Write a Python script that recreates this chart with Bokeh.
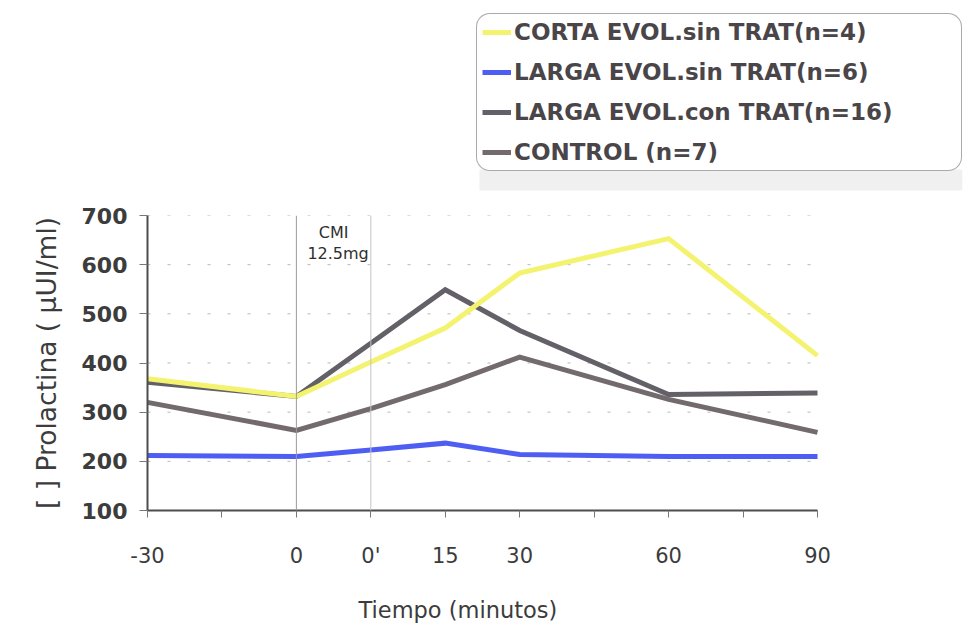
from bokeh.plotting import figure
from bokeh.layouts import column
from bokeh.models import Legend, LegendItem, FixedTicker, Span, Label, Range1d, Title, BoxAnnotation
from bokeh.embed import file_html
from bokeh.resources import INLINE

# ---- data ----
x_labels = ["-30", "0", "0'", "15", "30", "60", "90"]
x_slots = [0, 2, 3, 4, 5, 7, 9]          # ordinal slot of each time label on the axis
n_slots = 10

corta_sin = [368, 332, 402, 471, 583, 653, 415]
larga_sin = [212, 210, 223, 237, 214, 210, 210]
larga_con = [361, 332, 440, 549, 466, 336, 339]
control = [320, 263, 307, 356, 412, 326, 259]

series_names = ["CORTA EVOL.sin TRAT(n=4)", "LARGA EVOL.sin TRAT(n=6)",
                "LARGA EVOL.con TRAT(n=16)", "CONTROL (n=7)"]
y_ticks = [100, 200, 300, 400, 500, 600, 700]
colors = ["#f3f370", "#4f5ef2", "#636067", "#736a6e"]

TOTAL_W = 967
TOP_H = 195
LEFT = 147
AXIS_W = 670          # pixel length of the x axis
FRAME_W = 815         # frame extends right of the axis so the legend strip can be wide
x_end = x_slots[-1] + (FRAME_W - AXIS_W) * (x_slots[-1] - x_slots[0]) / AXIS_W

# ---- main figure ----
p = figure(frame_width=FRAME_W, frame_height=295,
           x_range=Range1d(x_slots[0], x_end), y_range=Range1d(y_ticks[0], y_ticks[-1]),
           output_backend="svg", toolbar_location=None,
           min_border_left=LEFT, min_border_top=215 - TOP_H,
           min_border_right=TOTAL_W - LEFT - FRAME_W, min_border_bottom=114)
p.outline_line_color = None
p.background_fill_color = "white"
p.border_fill_color = "white"

# grid (dotted horizontal lines limited to the axis extent)
p.xgrid.visible = False
p.ygrid.visible = False
g = y_ticks[1:]
p.segment(x0=[x_slots[0]] * len(g), x1=[x_slots[-1]] * len(g), y0=g, y1=g,
          line_color="#b8b8b8", line_dash="3 17", line_width=1, level="underlay")

# vertical markers at 0 and 0'
p.add_layout(Span(location=x_slots[1], dimension="height", line_color="#9a9a9a", line_width=1))
p.add_layout(Span(location=x_slots[2], dimension="height", line_color="#c4c4c4", line_width=1))

# axes
minor = [s for s in range(n_slots) if s not in x_slots]
p.xaxis.ticker = FixedTicker(ticks=x_slots, minor_ticks=minor)
p.xaxis.major_label_overrides = {s: l for s, l in zip(x_slots, x_labels)}
p.xaxis.bounds = (x_slots[0], x_slots[-1])
p.yaxis.ticker = FixedTicker(ticks=y_ticks)

for ax in (p.xaxis[0], p.yaxis[0]):
    ax.axis_line_color = "#4d4d4d"
    ax.axis_line_width = 2
    ax.major_tick_line_color = "#777777"
    ax.minor_tick_line_color = "#777777"
    ax.major_tick_in = 0
    ax.minor_tick_in = 0
    ax.major_label_text_color = "#3c3c3c"
    ax.axis_label_text_color = "#3c3c3c"
    ax.axis_label_text_font = "DejaVu Sans"
    ax.axis_label_text_font_style = "normal"

p.xaxis.major_tick_out = 7
p.xaxis.minor_tick_out = 7
p.xaxis.major_label_text_font = "DejaVu Sans"
p.xaxis.major_label_text_font_size = "21px"
p.xaxis.major_label_standoff = 26

p.yaxis.major_tick_out = 8
p.yaxis.minor_tick_out = 0
p.yaxis.major_label_text_font = "DejaVu Sans"
p.yaxis.major_label_text_font_style = "bold"
p.yaxis.major_label_text_font_size = "22px"
p.yaxis.major_label_standoff = 12
p.yaxis.axis_label = "[ ] Prolactina ( \u03bcUI/ml)"
p.yaxis.axis_label_text_font_size = "26.5px"
p.yaxis.axis_label_standoff = 17

# x axis title, positioned under the axis extent
p.add_layout(Title(text="Tiempo (minutos)", align="left", offset=211, vertical_align="top",
                   standoff=52, text_font="DejaVu Sans", text_font_style="normal",
                   text_font_size="22.5px", text_color="#3c3c3c"), "below")

# lines (draw order: control, con trat, blue, yellow on top)
p.line(x_slots, control, line_width=5, line_color=colors[3], line_join="miter")
p.line(x_slots, larga_con, line_width=5, line_color=colors[2], line_join="miter")
p.line(x_slots, larga_sin, line_width=5, line_color=colors[1], line_join="miter")
p.line(x_slots, corta_sin, line_width=5, line_color=colors[0], line_join="miter")

# annotation
mid = (x_slots[1] + x_slots[2]) / 2
p.add_layout(Label(x=mid, y=666, text="CMI", text_align="center", text_baseline="middle",
                   text_font="DejaVu Sans", text_font_size="16px", text_color="#2f2f2f"))
p.add_layout(Label(x=mid + 0.06, y=622, text="12.5mg", text_align="center", text_baseline="middle",
                   text_font="DejaVu Sans", text_font_size="16px", text_color="#2f2f2f"))

# ---- legend strip above the chart (pixel-unit ranges) ----
lg = figure(width=TOTAL_W, height=TOP_H,
            x_range=Range1d(LEFT, LEFT + FRAME_W), y_range=Range1d(TOP_H, 0),
            x_axis_type=None, y_axis_type=None, output_backend="svg", toolbar_location=None,
            min_border_left=LEFT, min_border_right=TOTAL_W - LEFT - FRAME_W,
            min_border_top=0, min_border_bottom=0)
lg.outline_line_color = None
lg.xgrid.visible = False
lg.ygrid.visible = False
# faint scanned shadow under the legend box
lg.add_layout(BoxAnnotation(left=479, right=LEFT + FRAME_W, top=169, bottom=190,
                            fill_color="#f0f0f0", fill_alpha=1.0, line_color=None,
                            level="underlay"))
dummies = [lg.line([-20, -10], [-20, -10], line_width=5, line_color=c) for c in colors]
items = [LegendItem(label=n, renderers=[r]) for n, r in zip(series_names, dummies)]
legend = Legend(items=items, location=(476 - LEFT, TOP_H - 171), orientation="vertical",
                glyph_width=29, glyph_height=26, label_height=26, label_width=442,
                label_standoff=3, spacing=14, padding=5, margin=0,
                label_text_font="DejaVu Sans", label_text_font_style="bold",
                label_text_font_size="23px", label_text_color="#4a4548",
                border_line_color="#555555", border_line_width=1.5,
                background_fill_color="white", background_fill_alpha=1.0)
if "border_radius" in Legend.properties():
    legend.border_radius = 14
lg.add_layout(legend, "center")

layout = column(lg, p, spacing=0)
open("out.html", "w").write(file_html(layout, INLINE))
